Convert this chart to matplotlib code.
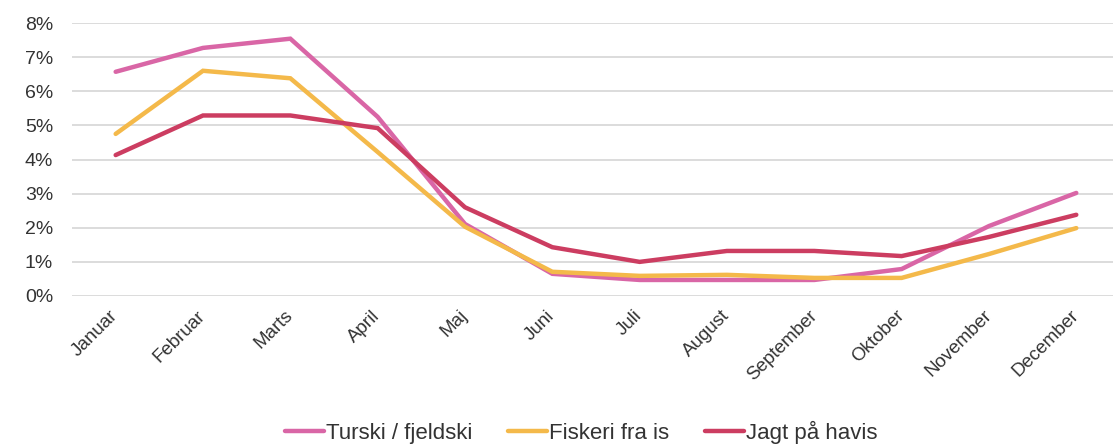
import matplotlib
matplotlib.use("Agg")
import matplotlib.pyplot as plt
from matplotlib.ticker import PercentFormatter
from matplotlib.transforms import ScaledTranslation

plt.rcParams['font.family'] = ['Liberation Sans', 'DejaVu Sans']

months = ["Januar", "Februar", "Marts", "April", "Maj", "Juni", "Juli",
          "August", "September", "Oktober", "November", "December"]
turski = [6.57, 7.27, 7.54, 5.25, 2.11, 0.65, 0.47, 0.47, 0.47, 0.79, 2.05, 3.02]
fiskeri = [4.75, 6.60, 6.38, 4.22, 2.03, 0.71, 0.59, 0.62, 0.53, 0.53, 1.23, 1.99]
jagt = [4.13, 5.29, 5.29, 4.92, 2.60, 1.43, 1.00, 1.32, 1.32, 1.17, 1.73, 2.38]
series_names = ["Turski / fjeldski", "Fiskeri fra is", "Jagt på havis"]
colors = ["#D966A6", "#F4B94A", "#CC3D61"]

W, H = 1113, 446
fig = plt.figure(figsize=(W / 100, H / 100), dpi=100)
ax = fig.add_axes([72 / W, (H - 296) / H, (W - 72) / W, (296 - 23) / H])

x = list(range(len(months)))
for vals, name, c in zip([turski, fiskeri, jagt], series_names, colors):
    ax.plot(x, [v / 100 for v in vals], color=c, lw=3.2, label=name,
            solid_capstyle='round', solid_joinstyle='miter')

ax.set_ylim(0, 0.08)
ax.set_yticks([i / 100 for i in range(9)])
ax.yaxis.set_major_formatter(PercentFormatter(1.0, decimals=0))
ax.set_xlim(-0.5, -0.5 + (W - 72) / 87.33)
ax.set_xticks(x)
ax.set_xticklabels(months, rotation=45, ha='right', rotation_mode='anchor')

ax.grid(axis='y', color='#D9D9D9', lw=1.3)
ax.set_axisbelow(True)
for s in ax.spines.values():
    s.set_visible(False)
ax.tick_params(axis='both', length=0, colors='#333333')
ax.tick_params(axis='y', pad=13.5, labelsize=14)
ax.tick_params(axis='x', pad=8, labelsize=13.5)

offset = ScaledTranslation(-6 / 100, 0, fig.dpi_scale_trans)
for lbl in ax.get_xticklabels():
    lbl.set_transform(lbl.get_transform() + offset)

leg = fig.legend(loc='center', bbox_to_anchor=(581 / W, (H - 432) / H), ncol=3,
                 frameon=False, fontsize=16, handlelength=1.75,
                 handletextpad=0.1, columnspacing=1.6)
for t in leg.get_texts():
    t.set_color('#333333')

fig.savefig("out.png", dpi=100)
